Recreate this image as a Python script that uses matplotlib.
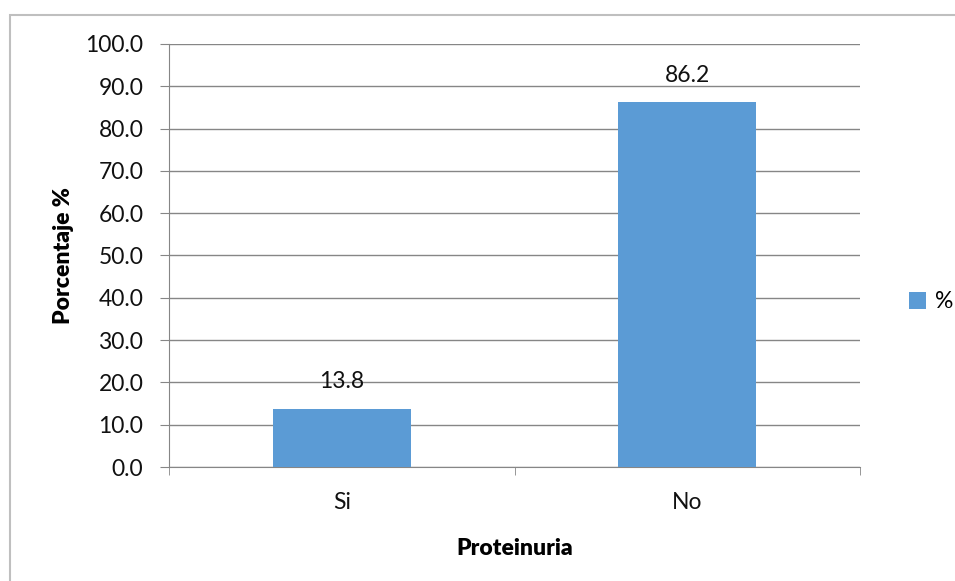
import matplotlib.pyplot as plt
from matplotlib.patches import Rectangle
import numpy as np

plt.rcParams['font.family'] = ['Lato', 'DejaVu Sans']

categorias = ["Si", "No"]
porcentajes = [13.8, 86.2]
yticks = np.arange(0, 101, 10)
color_barra = "#5b9bd5"
fs = 16.5

fig = plt.figure(figsize=(9.55, 5.81), dpi=100)
ax = fig.add_axes([169 / 955, 1 - 467 / 581, 691 / 955, 423 / 581])

# chart frame (light gray border, open on right/bottom)
fig.patches.append(Rectangle((10 / 955, -0.05), 1.1, 1 - 15 / 581 + 0.05,
                             transform=fig.transFigure, fill=False,
                             edgecolor="#bfbfbf", linewidth=1.5))

x = np.arange(len(categorias))
bars = ax.bar(x, porcentajes, width=0.4, color=color_barra, label="%", zorder=3)
for b, v in zip(bars, porcentajes):
    ax.text(b.get_x() + b.get_width() / 2, v + 6.4, format(v, ".1f"),
            ha="center", va="center", fontsize=fs, color="#111111")

ax.set_xlim(-0.5, 1.5)
ax.set_ylim(0, 100)
ax.set_yticks(yticks)
ax.set_yticklabels([format(t, ".1f") for t in yticks], fontsize=fs)
ax.set_xticks(x)
ax.set_xticklabels(categorias, fontsize=fs)
ax.set_xticks([-0.5, 0.5, 1.5], minor=True)
ax.tick_params(axis="x", which="major", length=0, pad=18, labelcolor="#111111")
ax.tick_params(axis="x", which="minor", length=6, color="#868686")
ax.tick_params(axis="y", length=6.5, color="#868686", pad=12, labelcolor="#111111")
ax.grid(axis="y", color="#868686", linewidth=1, zorder=0)

for s in ["top", "right"]:
    ax.spines[s].set_visible(False)
ax.spines["left"].set_color("#868686")
ax.spines["bottom"].set_color("#868686")

ax.set_ylabel("Porcentaje %", fontsize=fs, fontweight="heavy", labelpad=8)
ax.set_xlabel("Proteinuria", fontsize=fs, fontweight="heavy", labelpad=18)

ax.legend(loc="center left", bbox_to_anchor=(898 / 955, 1 - 302 / 581),
          bbox_transform=fig.transFigure, frameon=False, borderpad=0,
          fontsize=fs, handlelength=0.7, handleheight=0.7, handletextpad=0.4)

fig.savefig("out.png", dpi=100)
